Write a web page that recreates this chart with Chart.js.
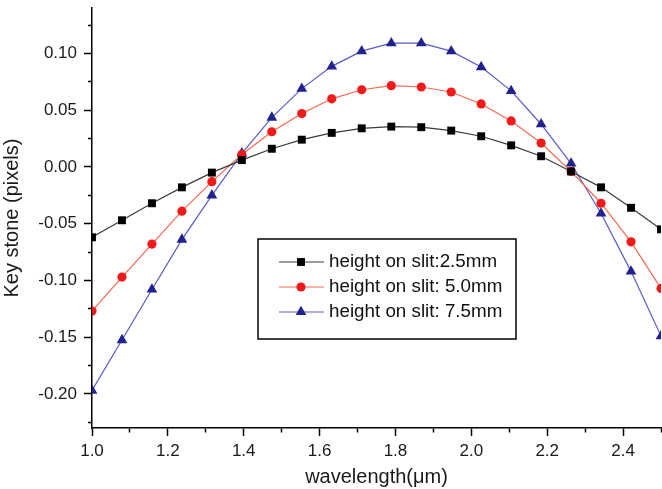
<!DOCTYPE html>
<html>
<head>
<meta charset="utf-8">
<script src="https://cdn.jsdelivr.net/npm/chart.js@4"></script>
<style>
  html, body { margin: 0; padding: 0; background: #fff; }
  #wrap { width: 662px; height: 489px; }
</style>
</head>
<body>
<div id="wrap"><canvas id="keystoneChart" width="662" height="489"></canvas></div>
<script>
// wavelength samples (µm)
const wavelengths = [1.000, 1.079, 1.158, 1.237, 1.316, 1.395, 1.474, 1.553, 1.632, 1.711,
                     1.789, 1.868, 1.947, 2.026, 2.105, 2.184, 2.263, 2.342, 2.421, 2.500];

// key stone (pixels) per slit height
const slit25 = [-0.062, -0.047, -0.032, -0.018, -0.005, 0.006, 0.016, 0.024, 0.030, 0.034,
                0.0355, 0.035, 0.032, 0.027, 0.019, 0.0094, -0.004, -0.018, -0.036, -0.055];
const slit50 = [-0.127, -0.097, -0.068, -0.039, -0.013, 0.011, 0.031, 0.047, 0.060, 0.068,
                0.0716, 0.0704, 0.066, 0.0555, 0.0405, 0.021, -0.004, -0.032, -0.066, -0.107];
const slit75 = [-0.197, -0.1525, -0.108, -0.064, -0.025, 0.012, 0.0435, 0.069, 0.0886, 0.102,
                0.109, 0.109, 0.102, 0.088, 0.067, 0.0376, 0.003, -0.041, -0.092, -0.149];

const seriesLabels = ['height on slit:2.5mm', 'height on slit: 5.0mm', 'height on slit: 7.5mm'];

// axis ticks (labelled ones are the majors)
const xTicks = [1.0, 1.1, 1.2, 1.3, 1.4, 1.5, 1.6, 1.7, 1.8, 1.9, 2.0, 2.1, 2.2, 2.3, 2.4, 2.5];
const xMajor = [1.0, 1.2, 1.4, 1.6, 1.8, 2.0, 2.2, 2.4];
const yTicks = [-0.225, -0.20, -0.175, -0.15, -0.125, -0.10, -0.075, -0.05, -0.025, 0.00,
                0.025, 0.05, 0.075, 0.10, 0.125];
const yMajor = [-0.20, -0.15, -0.10, -0.05, 0.00, 0.05, 0.10];

const FONT = "'Liberation Sans', Arial, sans-serif";
Chart.defaults.font.family = FONT;
Chart.defaults.color = '#1a1a1a';

const isMajor = (list, v) => list.some(m => Math.abs(m - v) < 1e-6);
const toPoints = ys => wavelengths.map((x, i) => ({ x: x, y: ys[i] }));

// legend drawn inside the plot area, framed
const boxLegend = {
  id: 'boxLegend',
  afterDraw(chart) {
    const ctx = chart.ctx;
    const box = { x: 258, y: 239, w: 258, h: 100 };
    ctx.save();
    ctx.strokeStyle = '#000';
    ctx.lineWidth = 1.5;
    ctx.strokeRect(box.x, box.y, box.w, box.h);
    chart.data.datasets.forEach((ds, i) => {
      const y = 262 + i * 25;
      ctx.strokeStyle = ds.borderColor;
      ctx.lineWidth = 1;
      ctx.beginPath();
      ctx.moveTo(279, y);
      ctx.lineTo(324, y);
      ctx.stroke();
      ctx.fillStyle = ds.pointBackgroundColor;
      Chart.helpers.drawPoint(ctx, {
        pointStyle: ds.pointStyle, radius: ds.pointRadius, borderWidth: 0
      }, 301, y);
      ctx.fillStyle = '#111';
      ctx.font = '18.8px ' + FONT;
      ctx.textBaseline = 'middle';
      ctx.textAlign = 'left';
      ctx.fillText(ds.label, 329, y);
    });
    ctx.restore();
  }
};

function minorLabels(list) {
  return scale => {
    scale.ticks.forEach(t => { if (!isMajor(list, t.value)) t.label = []; });
  };
}

new Chart(document.getElementById('keystoneChart'), {
  type: 'line',
  data: {
    datasets: [
      {
        label: seriesLabels[0],
        data: toPoints(slit25),
        borderColor: '#3c3c3c',
        borderWidth: 1.2,
        pointStyle: 'rect',
        pointRadius: 5.6,
        pointBackgroundColor: '#000',
        pointBorderWidth: 0
      },
      {
        label: seriesLabels[1],
        data: toPoints(slit50),
        borderColor: '#f36a50',
        borderWidth: 1.2,
        pointStyle: 'circle',
        pointRadius: 4.6,
        pointBackgroundColor: '#f01a1a',
        pointBorderWidth: 0
      },
      {
        label: seriesLabels[2],
        data: toPoints(slit75),
        borderColor: '#5a5ac4',
        borderWidth: 1.2,
        pointStyle: 'triangle',
        pointRadius: 6.2,
        pointBackgroundColor: '#22228e',
        pointBorderWidth: 0
      }
    ]
  },
  options: {
    responsive: false,
    animation: false,
    layout: { autoPadding: false, padding: { top: 8, right: 1, left: 0, bottom: 0 } },
    plugins: {
      legend: { display: false },
      tooltip: { enabled: false }
    },
    scales: {
      x: {
        type: 'linear',
        min: 1.0,
        max: 2.5,
        afterBuildTicks: scale => { scale.ticks = xTicks.map(v => ({ value: v })); },
        afterTickToLabelConversion: minorLabels(xMajor),
        afterFit: scale => { scale.height = 61; scale.paddingRight = 0; },
        border: { display: true, color: '#000', width: 1.5 },
        grid: {
          drawOnChartArea: false,
          tickLength: 8,
          tickColor: '#000',
          tickWidth: 1.5,
          tickBorderDash: c => isMajor(xMajor, c.tick.value) ? [] : [4, 20]
        },
        ticks: {
          autoSkip: false,
          maxRotation: 0,
          padding: 5,
          font: { size: 17 },
          color: '#1a1a1a',
          callback: v => v.toFixed(1)
        },
        title: {
          display: true,
          text: 'wavelength(μm)',
          font: { size: 20 },
          color: '#1a1a1a',
          padding: { top: 1, bottom: 0 }
        }
      },
      y: {
        type: 'linear',
        min: -0.23,
        max: 0.14,
        afterBuildTicks: scale => { scale.ticks = yTicks.map(v => ({ value: v })); },
        afterTickToLabelConversion: minorLabels(yMajor),
        afterFit: scale => { scale.width = 92; },
        border: { display: true, color: '#000', width: 1.5 },
        grid: {
          drawOnChartArea: false,
          tickLength: 8,
          tickColor: '#000',
          tickWidth: 1.5,
          tickBorderDash: c => isMajor(yMajor, c.tick.value) ? [] : [4, 4],
          tickBorderDashOffset: c => isMajor(yMajor, c.tick.value) ? 0 : 4
        },
        ticks: {
          autoSkip: false,
          padding: 7,
          font: { size: 17 },
          color: '#1a1a1a',
          callback: v => v.toFixed(2)
        },
        title: {
          display: true,
          text: 'Key stone (pixels)',
          font: { size: 20 },
          color: '#1a1a1a',
          padding: { top: 0, bottom: 0 }
        }
      }
    }
  },
  plugins: [boxLegend]
});
</script>
</body>
</html>
